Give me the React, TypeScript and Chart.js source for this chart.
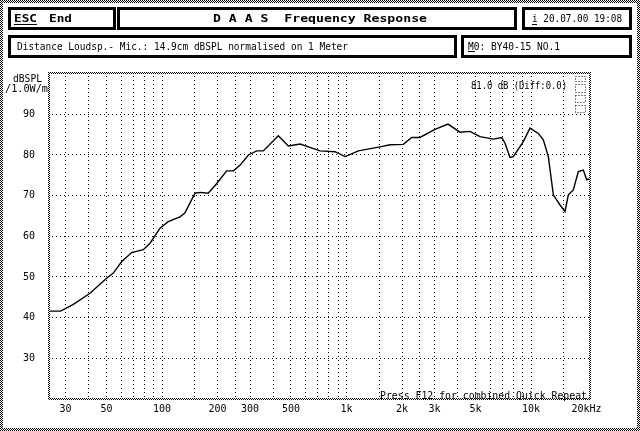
import { useEffect, useRef } from "react";
import { Chart, registerables } from "chart.js";

Chart.register(...registerables);

// Frequency response
const freqHz = [
  24.1, 28.2, 32.9, 40.7, 50.1, 54.3, 60.5, 68.5, 79.2, 86.1, 97.5, 108, 125, 133, 151, 161, 178, 198,
  224, 244, 265, 294, 326, 354, 427, 484, 560, 719, 866, 982, 1159, 1519, 1721, 2032, 2256, 2500,
  3018, 3548, 4121, 4668, 5291, 6248, 6937, 7228, 7691, 8018, 9081, 9877, 10954, 11660, 12411,
  13213, 14363, 15290, 15928, 16950, 18050, 19210, 20040, 21140,
];
const splDb = [
  41.6, 41.6, 43.2, 46.0, 49.7, 50.9, 53.8, 56.0, 56.7, 58.3, 62.0, 63.6, 64.8, 65.7, 70.6, 70.8, 70.6, 73.0,
  76.1, 76.1, 77.5, 80.0, 81.0, 81.0, 84.7, 82.2, 82.7, 81.0, 80.8, 79.6, 81.0, 82.0, 82.5, 82.6, 84.3, 84.3,
  86.3, 87.6, 85.6, 85.8, 84.5, 83.9, 84.3, 82.9, 79.4, 79.6, 83.3, 86.6, 85.3, 83.7, 79.6,
  70.2, 67.7, 66.1, 70.2, 71.4, 75.9, 76.3, 73.9, 74.3,
];

const gridFreqs = [
  30, 40, 50, 60, 70, 80, 90, 100, 150, 200, 250, 300, 400, 500, 600, 700, 800, 900,
  1000, 1500, 2000, 2500, 3000, 4000, 5000, 6000, 7000, 8000, 9000, 10000, 15000, 20000,
];
const freqLabelValues = [30, 50, 100, 200, 300, 500, 1000, 2000, 3000, 5000, 10000, 20000];
const freqLabelTexts = ["30", "50", "100", "200", "300", "500", "1k", "2k", "3k", "5k", "10k", "20kHz"];
const dbTicks = [30, 40, 50, 60, 70, 80, 90];

const MONO = "'DejaVu Sans Mono', monospace";

function checker(ctx: CanvasRenderingContext2D) {
  const c = document.createElement("canvas");
  c.width = 2;
  c.height = 2;
  const g = c.getContext("2d")!;
  g.fillStyle = "#fff";
  g.fillRect(0, 0, 2, 2);
  g.fillStyle = "#000";
  g.fillRect(0, 0, 1, 1);
  g.fillRect(1, 1, 1, 1);
  return ctx.createPattern(c, "repeat")!;
}

function fitText(
  ctx: CanvasRenderingContext2D,
  s: string,
  x: number,
  baseline: number,
  width: number,
  font: string
) {
  ctx.save();
  ctx.font = font;
  ctx.textAlign = "left";
  ctx.textBaseline = "alphabetic";
  ctx.fillStyle = "#000";
  const w = ctx.measureText(s).width;
  ctx.translate(x, baseline);
  ctx.scale(width / w, 1);
  ctx.fillText(s, 0, 0);
  ctx.restore();
}

function box(ctx: CanvasRenderingContext2D, x1: number, y1: number, x2: number, y2: number) {
  ctx.strokeRect(x1 + 1.5, y1 + 1.5, x2 - x1 - 3, y2 - y1 - 3);
}

const framePlugin = {
  id: "daasFrame",
  beforeDraw(chart: any) {
    const ctx: CanvasRenderingContext2D = chart.ctx;
    ctx.save();
    ctx.fillStyle = "#fff";
    ctx.fillRect(0, 0, chart.width, chart.height);
    ctx.fillStyle = checker(ctx);
    ctx.fillRect(0, 0, 640, 3);
    ctx.fillRect(0, 428, 640, 3);
    ctx.fillRect(0, 0, 3, 431);
    ctx.fillRect(637, 0, 3, 431);

    ctx.strokeStyle = "#000";
    ctx.lineWidth = 3;
    box(ctx, 8, 7, 116, 30);
    box(ctx, 117, 7, 517, 30);
    box(ctx, 522, 7, 632, 30);
    box(ctx, 8, 35, 457, 58);
    box(ctx, 461, 35, 632, 58);
    ctx.restore();

    const bold = `bold 10.5px ${MONO}`;
    const reg = `10.5px ${MONO}`;
    fitText(ctx, "ESC", 14, 22, 23, bold);
    ctx.fillStyle = "#000";
    ctx.fillRect(14, 24, 23, 1);
    fitText(ctx, "End", 49, 22, 23, bold);
    fitText(ctx, "D A A S  Frequency Response", 213, 22, 214, bold);
    fitText(ctx, "i 20.07.00 19:08", 532, 22, 90, reg);
    ctx.fillRect(532, 24, 5, 1);
    fitText(ctx, "Distance Loudsp.- Mic.: 14.9cm dBSPL normalised on 1 Meter", 17, 49.5, 331, reg);
    fitText(ctx, "M0: BY40-15 NO.1", 468, 49.5, 92, reg);
    ctx.fillRect(468, 51, 7, 1);

    fitText(ctx, "dBSPL", 13, 82, 29, reg);
    fitText(ctx, "/1.0W/m", 5, 92, 43, reg);
  },
  afterDraw(chart: any) {
    const ctx: CanvasRenderingContext2D = chart.ctx;
    const a = chart.chartArea;
    ctx.save();
    ctx.fillStyle = checker(ctx);
    const w = a.right - a.left;
    const h = a.bottom - a.top;
    ctx.fillRect(a.left, a.top, w, 2);
    ctx.fillRect(a.left, a.bottom - 2, w, 2);
    ctx.fillRect(a.left, a.top, 2, h);
    ctx.fillRect(a.right - 2, a.top, 2, h);

    // small dotted legend boxes at top right
    ctx.strokeStyle = "#000";
    ctx.lineWidth = 1;
    ctx.setLineDash([1, 2]);
    ctx.strokeRect(575.5, 76.5, 10, 5);
    ctx.strokeRect(575.5, 84.5, 10, 8);
    ctx.strokeRect(575.5, 95.5, 10, 7);
    ctx.strokeRect(575.5, 105.5, 10, 7);
    ctx.setLineDash([]);
    ctx.restore();

    const reg = `10.5px ${MONO}`;
    fitText(ctx, "81.0 dB (Diff:0.0)", 471, 89, 96, reg);
    fitText(ctx, "Press F12 for combined Quick Repeat", 380, 399, 207, reg);
  },
};

export default function App() {
  const ref = useRef<HTMLCanvasElement | null>(null);

  useEffect(() => {
    document.body.style.margin = "0";
    const canvas = ref.current!;
    const points = freqHz.map((f, i) => ({ x: f, y: splDb[i] }));
    const chart = new Chart(canvas, {
      type: "line",
      data: {
        datasets: [
          {
            data: points,
            borderColor: "#000",
            borderWidth: 1.4,
            pointRadius: 0,
            tension: 0,
            fill: false,
          },
        ],
      },
      options: {
        animation: false,
        responsive: false,
        events: [],
        layout: { padding: { left: 0, top: 72, right: 49, bottom: 0 } },
        plugins: { legend: { display: false }, tooltip: { enabled: false } },
        scales: {
          x: {
            type: "logarithmic",
            min: 24.1,
            max: 21140,
            afterBuildTicks: (s: any) => {
              s.ticks = gridFreqs.map((v) => ({ value: v }));
            },
            afterFit: (s: any) => {
              s.height = 31;
            },
            ticks: {
              autoSkip: false,
              maxRotation: 0,
              minRotation: 0,
              padding: 3,
              color: "#000",
              font: { family: MONO, size: 10 },
              callback: (v: any) => {
                const idx = freqLabelValues.indexOf(Number(v));
                return idx >= 0 ? freqLabelTexts[idx] : "";
              },
            },
            grid: {
              drawTicks: false,
              color: (c: any) => (c.tick && c.tick.value === 20000 ? "rgba(0,0,0,0)" : "#000"),
              lineWidth: 1,
            },
            border: { display: false, dash: [1, 3] },
          },
          y: {
            type: "linear",
            min: 19.75,
            max: 100.4,
            afterBuildTicks: (s: any) => {
              s.ticks = dbTicks.map((v) => ({ value: v }));
            },
            afterFit: (s: any) => {
              s.width = 48;
            },
            ticks: {
              padding: 13,
              color: "#000",
              font: { family: MONO, size: 10 },
              callback: (v: any) => String(v),
            },
            grid: { drawTicks: false, color: "#000", lineWidth: 1 },
            border: { display: false, dash: [1, 3] },
          },
        },
      },
      plugins: [framePlugin],
    });
    return () => chart.destroy();
  }, []);

  return (
    <div style={{ position: "absolute", left: 0, top: 0, width: 640, height: 431 }}>
      <canvas ref={ref} width={640} height={431} style={{ display: "block" }} />
    </div>
  );
}
